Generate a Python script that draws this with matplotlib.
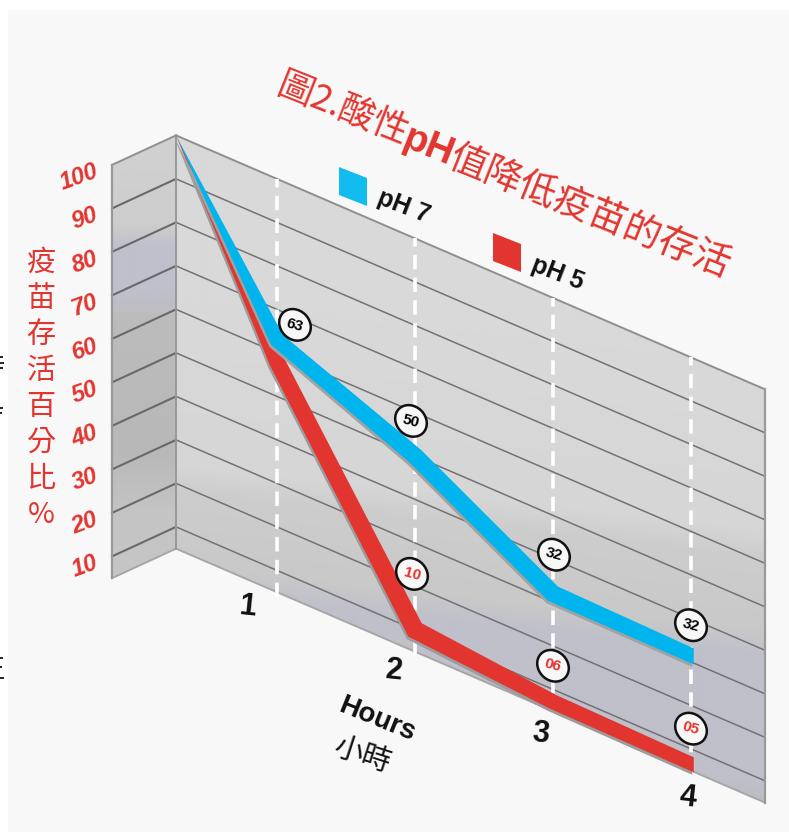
import numpy as np
import matplotlib
matplotlib.use("Agg")
import matplotlib.pyplot as plt
from matplotlib.patches import Ellipse, Polygon, Rectangle
from matplotlib.transforms import Affine2D

CJK = ["Noto Sans CJK TC", "DejaVu Sans"]
LATIN = "Liberation Sans"
RED = "#e2352f"
BLUE = "#00b5ee"

# data
hours = [1, 2, 3, 4]
percent_ticks = [100, 90, 80, 70, 60, 50, 40, 30, 20, 10]
start_hour = 0.268
end_hour = 4.536
floor_value = 5
times = [0.268, 1, 2, 3, 4.02]
ph7_values = [100, 63, 50, 32, 32]
ph5_values = [100, 58, 10, 6, 5]
ph7_labels = ["63", "50", "32", "32"]
ph5_labels = ["10", "06", "05"]
title_parts = ["圖2.酸性", "pH", "值降低疫苗的存活"]
ylabel_chars = ["疫", "苗", "存", "活", "百", "分", "比", "%"]

# ribbon widths at each vertex, and how far the band rides above its value, in pixels
ph7_widths = [0, 15, 17, 17, 16]
ph5_widths = [0, 16, 18, 15, 15]
ph7_lift = [0, 0, 0, 0, -2]
ph5_lift = [0, 0, 0, 5, 7]

fig = plt.figure(figsize=(7.89, 8.32), dpi=100, facecolor="white")
ax = fig.add_axes([0, 0, 1, 1])
ax.set_xlim(0, 789)
ax.set_ylim(832, 0)
ax.axis("off")

# the two walls of the box: (hour, percent) -> pixels
right_wall = Affine2D.from_values(138, 59.5, 0, -4.35, 139, 554.4)
left_wall = Affine2D.from_values(64, -29.5, 0, -4.35, 176, 570.4)

ax.add_patch(Rectangle((8, 10), 781, 822, color="#f8f8f8", lw=0, zorder=0))


def shade(corners, stops, tilt, zorder=1):
    # soft colour bands, clipped to one wall
    xs, ys = np.meshgrid(np.arange(0, 789, 2), np.arange(0, 832, 2))
    s = ys - tilt * (xs - 176)
    pos = [p for p, c in stops]
    rgb = np.array([matplotlib.colors.to_rgb(c) for p, c in stops])
    img = np.dstack([np.interp(s, pos, rgb[:, i]) for i in range(3)])
    im = ax.imshow(img, extent=(0, 789, 832, 0), aspect="auto",
                   interpolation="bilinear", zorder=zorder)
    im.set_clip_path(Polygon(corners, transform=ax.transData))


right_corners = right_wall.transform([[start_hour, 100], [end_hour, 100],
                                      [end_hour, floor_value], [start_hour, floor_value]])
left_corners = left_wall.transform([[-1, 100], [0, 100], [0, floor_value], [-1, floor_value]])

shade(right_corners, [(300, "#d9d9d9"), (465, "#d6d6d6"), (490, "#cdcdcd"), (565, "#c9c9c9"),
                      (590, "#bfc0ca"), (715, "#bfc0ca"), (750, "#b6bcba")], 0.11)
shade(left_corners, [(170, "#d0d0d0"), (225, "#cdcdcd"), (245, "#bfc0cc"), (290, "#bfc0cc"),
                     (320, "#bcbcbc"), (450, "#b8b8b8"), (510, "#c4c4c4"), (580, "#c6c6c6")], 0.0)
ax.set_xlim(0, 789)
ax.set_ylim(832, 0)

right_tr = right_wall + ax.transData
left_tr = left_wall + ax.transData

# grid lines on both walls
for v in percent_ticks[1:]:
    ax.plot([start_hour, end_hour], [v, v], color="#737174", lw=1.1, transform=right_tr, zorder=2)
    ax.plot([-1, 0], [v, v], color="#6a686b", lw=1.5, transform=left_tr, zorder=2)

# outline of the box
edge = "#8f8f8f"
ax.plot([start_hour, end_hour], [100, 100], color=edge, lw=1.4, transform=right_tr, zorder=2)
ax.plot([start_hour, end_hour], [floor_value, floor_value], color="#a6a6a6", lw=1.4, transform=right_tr, zorder=2)
ax.plot([end_hour, end_hour], [floor_value, 100], color="#999999", lw=1.6, transform=right_tr, zorder=2)
ax.plot([-1, 0], [100, 100], color=edge, lw=1.4, transform=left_tr, zorder=2)
ax.plot([-1, 0], [floor_value, floor_value], color="#a6a6a6", lw=1.4, transform=left_tr, zorder=2)
ax.plot([-1, -1], [floor_value, 100], color="#999999", lw=1.6, transform=left_tr, zorder=2)
ax.plot([0, 0], [floor_value, 100], color="#989898", lw=1.4, transform=left_tr, zorder=2)

# white dashed hour markers
for h in hours:
    ax.plot([h, h], [floor_value - 1, 100], color="white", lw=2.6, linestyle=(0, (4.0, 2.3)),
            transform=right_tr, zorder=3)


def ribbon(t, v, widths, lift):
    # thick tapered band along a series, cut vertically at its far end
    pts = right_wall.transform(np.column_stack([t, v]))
    pts[:, 1] -= lift
    seg = np.diff(pts, axis=0)
    normals = np.column_stack([seg[:, 1], -seg[:, 0]]) / np.linalg.norm(seg, axis=1)[:, None]
    offs = []
    for i in range(len(pts)):
        if i == 0:
            offs.append(normals[0] * widths[0] / 2)
        elif i == len(pts) - 1:
            offs.append(np.array([0, -widths[i] / 2]))
        else:
            m = normals[i - 1] + normals[i]
            m = m / np.linalg.norm(m)
            offs.append(m * widths[i] / 2 / np.dot(m, normals[i]))
    offs = np.array(offs)
    return np.vstack([pts + offs, (pts - offs)[::-1]])


ph5_band = ribbon(times, ph5_values, ph5_widths, ph5_lift)
ph7_band = ribbon(times, ph7_values, ph7_widths, ph7_lift)
ax.add_patch(Polygon(ph5_band + [-1.5, 2.5], color="#9c9c9c", lw=0, zorder=4))
ax.add_patch(Polygon(ph5_band, color=RED, lw=0, zorder=5))
ax.add_patch(Polygon(ph7_band + [-1.5, 2.5], color="#a2a2a2", lw=0, zorder=6))
ax.add_patch(Polygon(ph7_band, color=BLUE, lw=0, zorder=7))

# circled values
ph7_offsets = [(18, -15), (-4, -35), (1, -39), (0, -28)]
ph5_offsets = [(-3, -56), (0, -41), (0, -42)]
for idx, vals, labels, offsets, colour in [(hours, ph7_values[1:], ph7_labels, ph7_offsets, "black"),
                                           (hours[1:], ph5_values[2:], ph5_labels, ph5_offsets, RED)]:
    for h, val, lab, off in zip(idx, vals, labels, offsets):
        px, py = right_wall.transform([h, val])
        cx, cy = px + off[0], py + off[1]
        ax.add_patch(Ellipse((cx, cy), 34, 29, angle=45, facecolor="#f7f7f7",
                             edgecolor="#111111", lw=1.8, zorder=8))
        ax.text(cx, cy, lab, color=colour, fontsize=11, family=LATIN, weight="bold",
                ha="center", va="center", rotation=-15, rotation_mode="anchor", zorder=9)

# percent tick labels
for v in percent_ticks:
    px, py = left_wall.transform([-1, v])
    ax.text(px - 15, py + 6, str(v), color=RED, fontsize=17, family=LATIN, weight="bold",
            style="italic", ha="right", va="center", rotation=20, rotation_mode="anchor")

# hour tick labels, spaced a little wider than the wall itself
for h in hours:
    ax.text(247 + 147 * (h - 1), 607 + 63.7 * (h - 1), str(h), color="#111111", fontsize=22,
            family=LATIN, weight="bold", ha="center", va="center", rotation=-6, rotation_mode="anchor")

ax.text(377, 720, "Hours", color="#111111", fontsize=20, family=LATIN, weight="bold",
        ha="center", va="center", rotation=-22, rotation_mode="anchor")
ax.text(362, 755, "小時", color="#111111", fontsize=21, family=CJK,
        ha="center", va="center", rotation=-18, rotation_mode="anchor")

# stacked y axis title
for i, ch in enumerate(ylabel_chars):
    ax.text(41, 263 + 36 * i, ch, color=RED, fontsize=21, family=CJK, weight="medium",
            ha="center", va="center")

# title along the top edge
ax.text(342, 110, title_parts[0], color=RED, fontsize=26, family=CJK, weight="medium",
        ha="center", va="center", rotation=-21.8, rotation_mode="anchor")
ax.text(428, 147, title_parts[1], color=RED, fontsize=28, family=LATIN, weight="bold",
        ha="center", va="center", rotation=-21.8, rotation_mode="anchor")
ax.text(590, 212, title_parts[2], color=RED, fontsize=27, family=CJK, weight="medium",
        ha="center", va="center", rotation=-21.8, rotation_mode="anchor")

# legend
for x0, y0, colour, lab in [(339, 167, "#12bcef", "pH 7"), (493, 233, RED, "pH 5")]:
    ax.add_patch(Polygon([(x0, y0), (x0 + 28, y0 + 11), (x0 + 28, y0 + 39), (x0, y0 + 28)],
                         color=colour, lw=0, zorder=3))
    ax.text(x0 + 65, y0 + 40, lab, color="#111111", fontsize=18, family=LATIN, weight="bold",
            ha="center", va="center", rotation=-21, rotation_mode="anchor")

# specks along the left border
for y0, length in [(357, 3), (363, 4), (368, 3), (408, 3), (413, 2), (658, 3), (667, 2), (678, 4)]:
    ax.plot([0, length], [y0, y0], color="#222222", lw=1.4, solid_capstyle="butt", zorder=3)

fig.savefig("out.png", dpi=100, facecolor="white")
